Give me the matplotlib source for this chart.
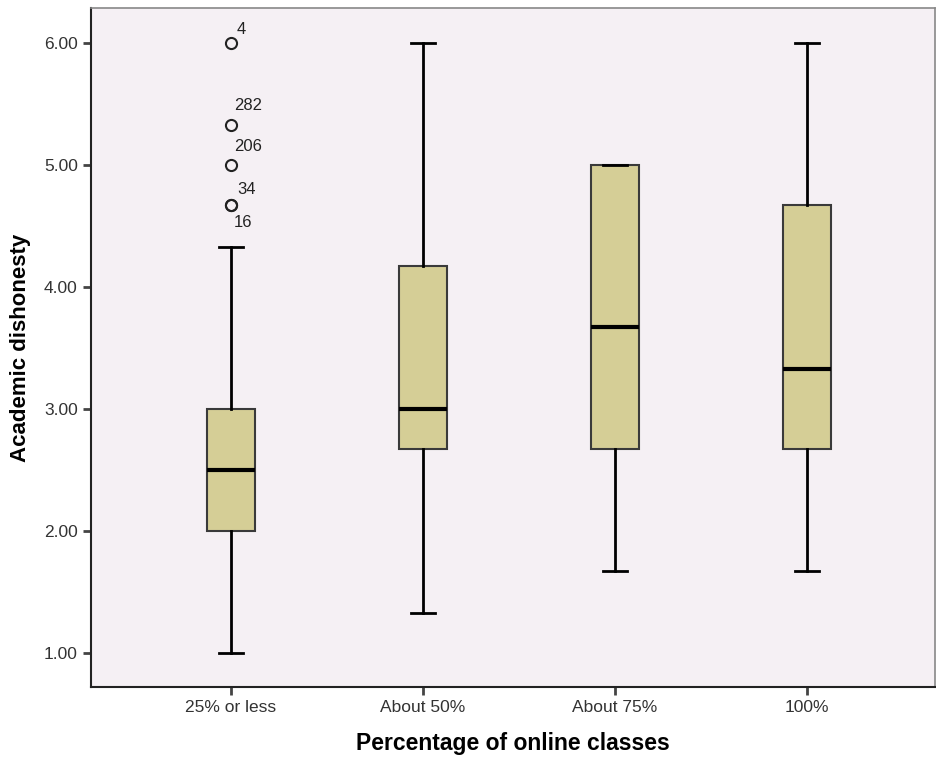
import matplotlib
matplotlib.use('Agg')
from matplotlib import pyplot as plt

plt.rcParams['font.family'] = ['Liberation Sans', 'DejaVu Sans']

categories = ['25% or less', 'About 50%', 'About 75%', '100%']
whisker_low = [1.00, 1.33, 1.67, 1.67]
q1 = [2.00, 2.67, 2.67, 2.67]
median = [2.50, 3.00, 3.67, 3.33]
q3 = [3.00, 4.17, 5.00, 4.67]
whisker_high = [4.33, 6.00, 5.00, 6.00]
outliers = [[4.67, 4.67, 5.00, 5.33, 6.00], [], [], []]
outlier_ids = [['16', '34', '206', '282', '4'], [], [], []]

stats = []
for i in range(len(categories)):
    stats.append({'whislo': whisker_low[i], 'q1': q1[i], 'med': median[i],
                  'q3': q3[i], 'whishi': whisker_high[i], 'fliers': outliers[i]})

fig = plt.figure(figsize=(9.37, 7.62), dpi=100)
ax = fig.add_axes([0.0971, 0.0984, 0.9008, 0.8911])
ax.set_facecolor('#f5f0f4')

positions = list(range(1, len(categories) + 1))
ax.bxp(stats, positions=positions, widths=0.25, patch_artist=True,
       boxprops=dict(facecolor='#d5ce96', edgecolor='#3a3a3a', linewidth=1.5),
       medianprops=dict(color='black', linewidth=3),
       whiskerprops=dict(color='black', linewidth=2),
       capprops=dict(color='black', linewidth=2),
       capwidths=0.125,
       flierprops=dict(marker='o', markersize=8, markerfacecolor='none',
                       markeredgecolor='#222222', markeredgewidth=1.5))

# case labels next to the outliers (offsets in points)
offsets = {'4': (4.3, 9.4), '282': (2.2, 13.7), '206': (2.2, 13.0),
           '34': (4.3, 11.5), '16': (2.2, -12.2)}
for i, vals in enumerate(outliers):
    for v, lab in zip(vals, outlier_ids[i]):
        ax.annotate(lab, (positions[i], v), xytext=offsets.get(lab, (5, 5)),
                    textcoords='offset points', fontsize=12, color='#222222',
                    ha='left', va='center')

ax.set_xlim(0.271, 4.667)
ax.set_ylim(0.721, 6.287)
ax.set_yticks([1, 2, 3, 4, 5, 6])
ax.set_yticklabels(['%.2f' % t for t in [1, 2, 3, 4, 5, 6]])
ax.set_xticks(positions)
ax.set_xticklabels(categories)
ax.tick_params(axis='both', labelsize=12.5, labelcolor='#333333', color='#444444',
               length=6, width=2)

for side in ['left', 'bottom']:
    ax.spines[side].set_color('#222222')
    ax.spines[side].set_linewidth(1.5)
for side in ['top', 'right']:
    ax.spines[side].set_color('#888888')
    ax.spines[side].set_linewidth(1.2)

ax.set_xlabel('Percentage of online classes', fontsize=16.5, fontweight='bold', labelpad=12)
ax.set_ylabel('Academic dishonesty', fontsize=16, fontweight='bold', labelpad=9)

fig.savefig('out.png', dpi=100)
